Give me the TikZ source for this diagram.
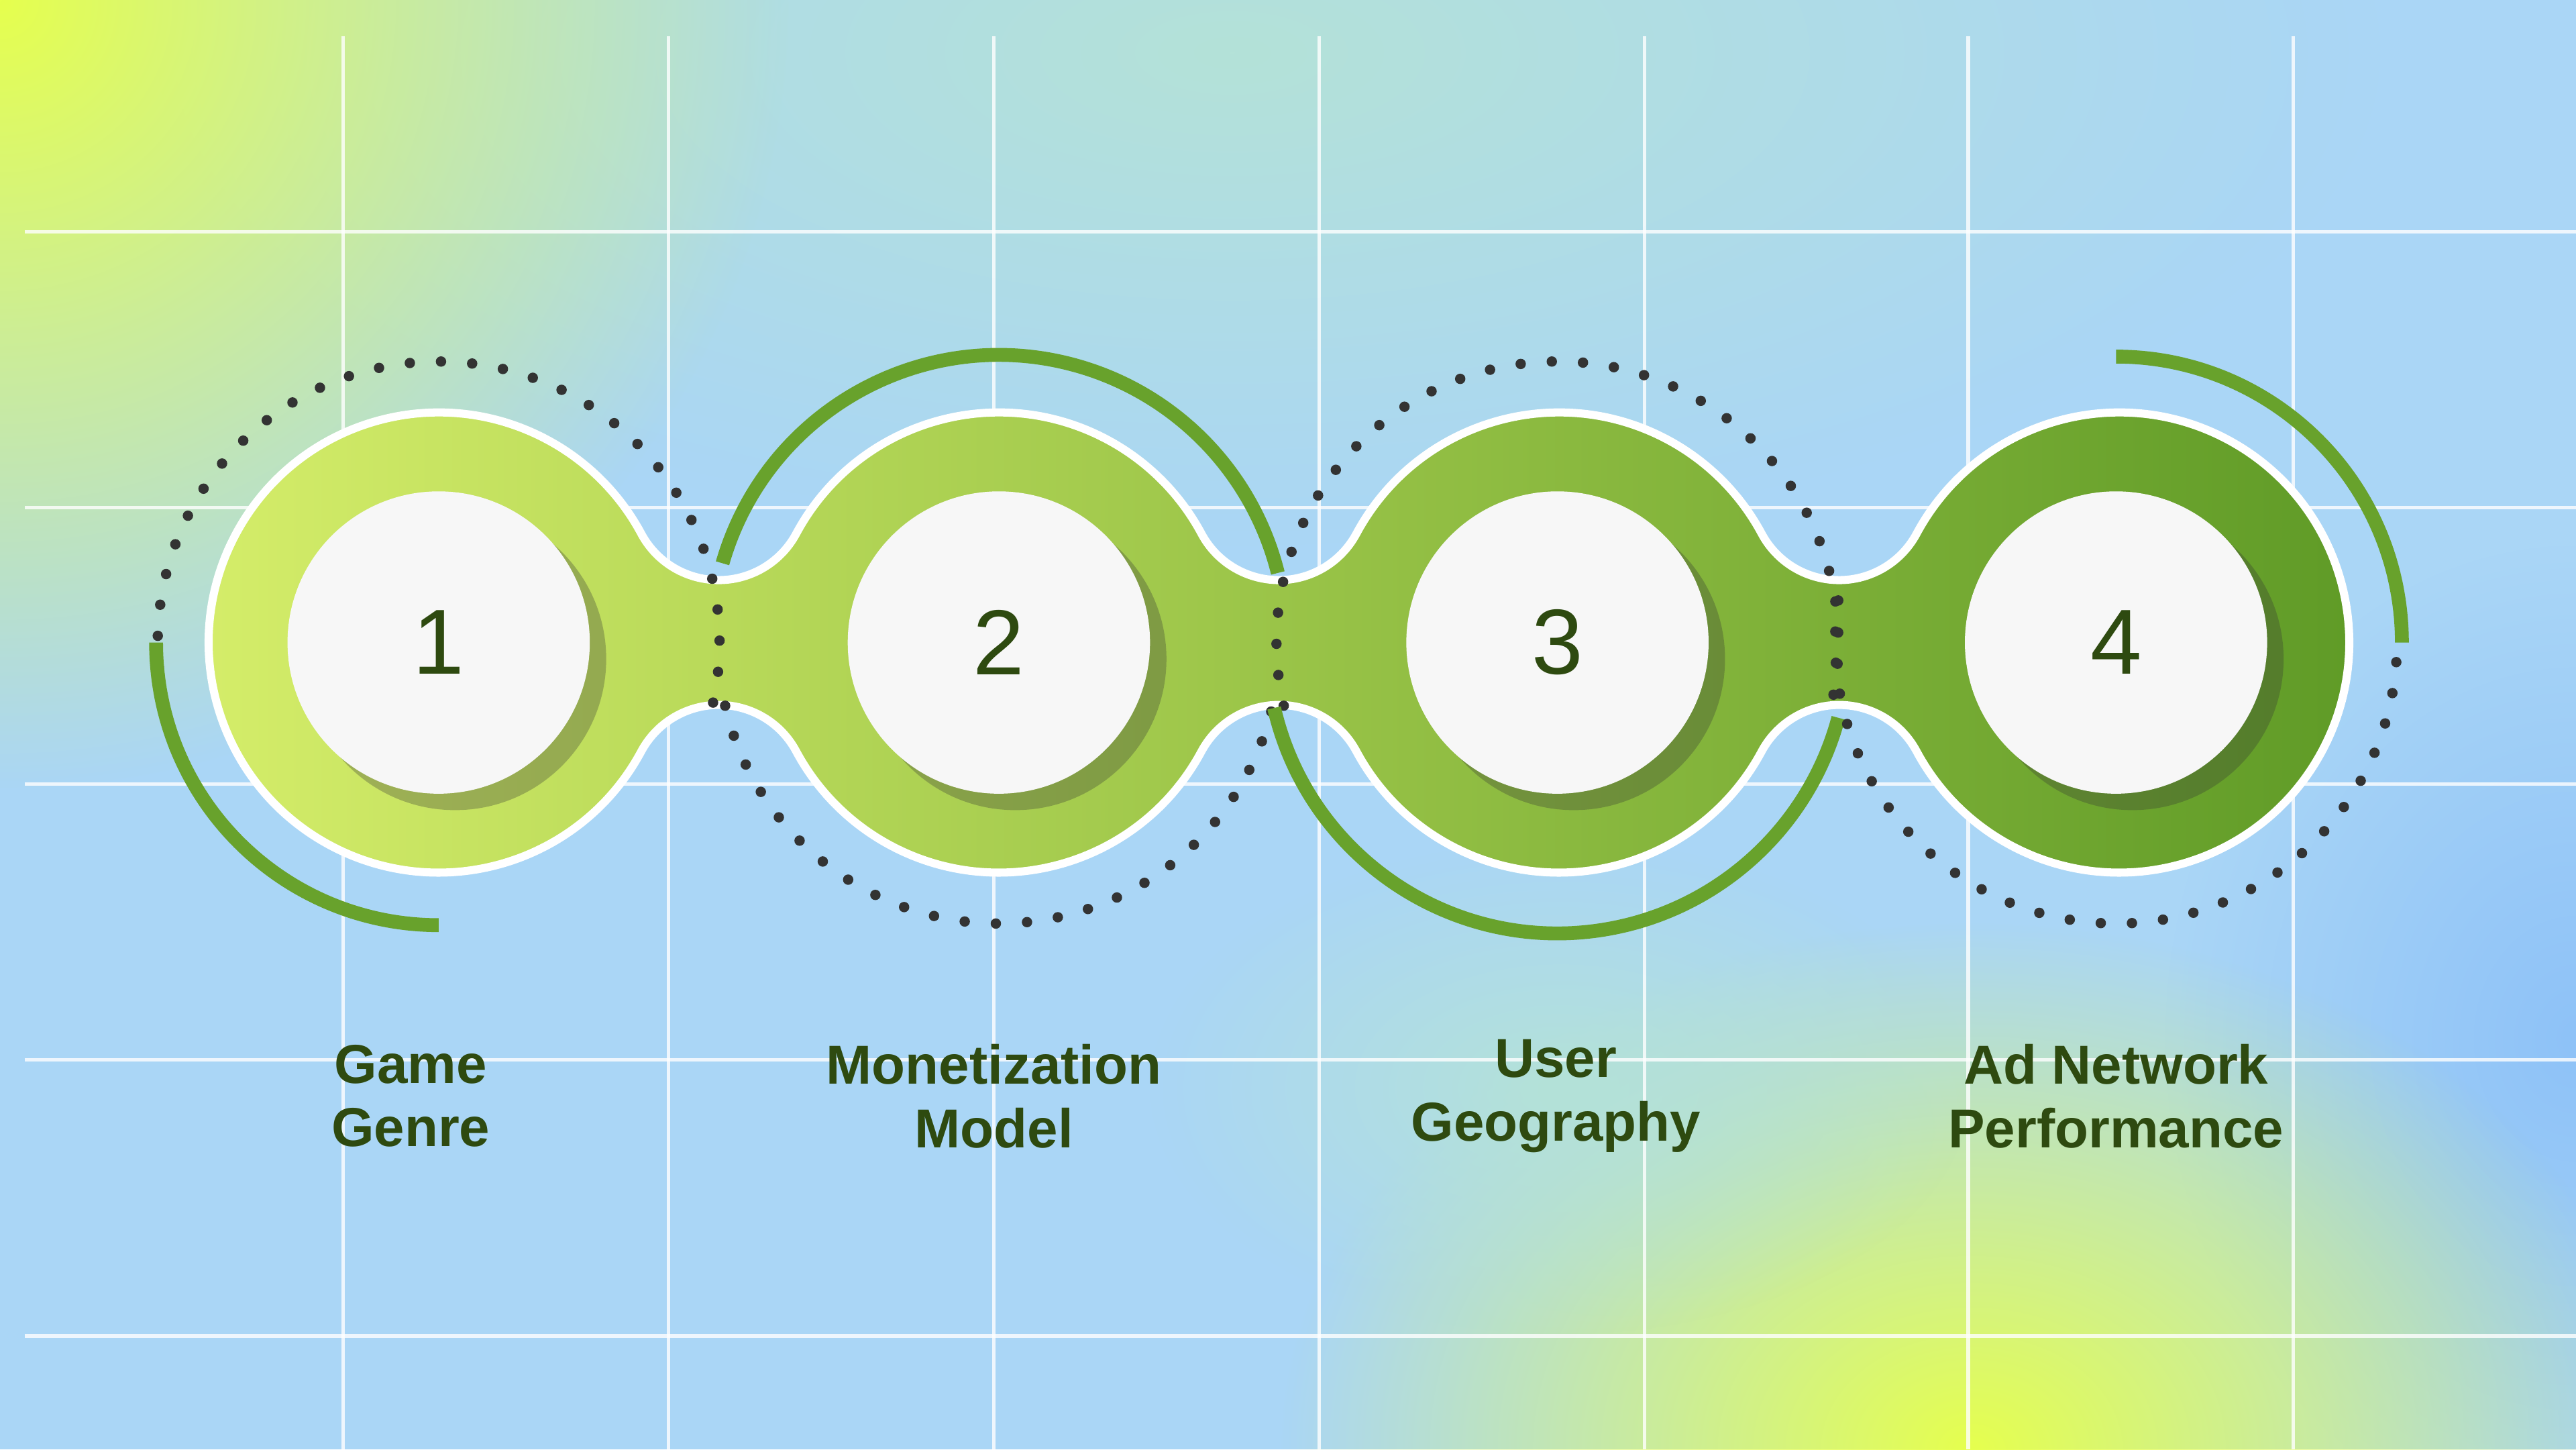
\documentclass[tikz,border=0pt]{standalone}
\usepackage{fontspec}
\setmainfont{Liberation Sans}
\usetikzlibrary{fadings,shadows,calc}
\tikzfading[name=softout,inner color=transparent!0,outer color=transparent!100]
\definecolor{bgblue}{HTML}{AAD6F6}
\definecolor{ylw}{HTML}{E6FF4E}
\definecolor{tealc}{HTML}{B4E2D8}
\definecolor{deepblue}{HTML}{8EC2F8}
\definecolor{gL}{HTML}{D6EE6A}
\definecolor{gR}{HTML}{5E9A26}
\definecolor{arcg}{HTML}{68A22C}
\definecolor{txt}{HTML}{2E4A10}
\definecolor{dotc}{HTML}{333333}
\tikzset{
 grid/.style={white,line width=0.6pt,opacity=0.8},
 solidarc/.style={arcg,line width=2.4pt},
 dotarc/.style={dotc,line width=1.8pt,line cap=round,dash pattern=on 0pt off 0.19cm},
 inner/.style={circle,fill=white!97!black,minimum size=1.84cm,inner sep=0pt,
   drop shadow={shadow xshift=0.1cm,shadow yshift=-0.1cm,opacity=0.3,fill=black!80}},
 num/.style={font=\fontsize{16}{16}\selectfont,text=txt},
 lab/.style={font=\bfseries\fontsize{9.5}{11}\selectfont,text=txt,align=center}
}
\begin{document}
\begin{tikzpicture}
\useasboundingbox (0,0) rectangle (15.68,8.82);
\fill[bgblue] (0,0) rectangle (15.68,8.82);
\fill[deepblue,path fading=softout] (15.68,2.5) ellipse (2.5 and 3);
\fill[tealc,path fading=softout] (7.5,8.5) ellipse (7 and 3);
\fill[ylw,path fading=softout] (0,8.82) circle (4.8);
\fill[ylw,path fading=softout] (12.0,0) ellipse (4.2 and 3.2);
\fill[tealc,path fading=softout] (9.5,2.2) ellipse (2.5 and 1.5);
\foreach \x in {2.09,4.07,6.05,8.03,10.01,11.98,13.96} \draw[grid] (\x,8.6) -- (\x,0);
\foreach \y in {7.41,5.73,4.05,2.37,0.69} \draw[grid] (0.15,\y) -- (15.68,\y);
\coordinate (c1) at (2.67,4.91);
\coordinate (c2) at (6.08,4.91);
\coordinate (c3) at (9.48,4.91);
\coordinate (c4) at (12.88,4.91);
\shade[left color=gL,right color=gR,draw=white,line width=1.4pt]
 ($(c1)+(28.22:1.4)$) arc[start angle=208.22,end angle=331.78,radius=0.535]
 arc[start angle=151.78,end angle=28.22,radius=1.4]
 arc[start angle=208.22,end angle=331.78,radius=0.535]
 arc[start angle=151.78,end angle=28.22,radius=1.4]
 arc[start angle=208.22,end angle=331.78,radius=0.535]
 arc[start angle=151.78,end angle=-151.78,radius=1.4]
 arc[start angle=28.22,end angle=151.78,radius=0.535]
 arc[start angle=-28.22,end angle=-151.78,radius=1.4]
 arc[start angle=28.22,end angle=151.78,radius=0.535]
 arc[start angle=-28.22,end angle=-151.78,radius=1.4]
 arc[start angle=28.22,end angle=151.78,radius=0.535]
 arc[start angle=-28.22,end angle=-331.78,radius=1.4] -- cycle;
\draw[dotarc] ($(c1)+(185:1.71)$) arc[start angle=185,end angle=-13,radius=1.71];
\draw[solidarc] ($(c1)+(180:1.72)$) arc[start angle=180,end angle=270,radius=1.72];
\draw[solidarc] ($(c2)+(164:1.75)$) arc[start angle=164,end angle=14,radius=1.75];
\draw[dotarc] ($(c2)+(193:1.71)$) arc[start angle=193,end angle=350,radius=1.71];
\draw[dotarc] ($(c3)+(193:1.71)$) arc[start angle=193,end angle=-13,radius=1.71];
\draw[solidarc] ($(c3)+(193:1.77)$) arc[start angle=193,end angle=345,radius=1.77];
\draw[solidarc] ($(c4)+(90:1.74)$) arc[start angle=90,end angle=0,radius=1.74];
\draw[dotarc] ($(c4)+(-4:1.71)$) arc[start angle=-4,end angle=-190,radius=1.71];
\node[inner] (n1) at (c1) {}; \node[num] at (n1) {1};
\node[inner] (n2) at (c2) {}; \node[num] at (n2) {2};
\node[inner] (n3) at (c3) {}; \node[num] at (n3) {3};
\node[inner] (n4) at (c4) {}; \node[num] at (n4) {4};
\node[lab] (l1) at (2.50,2.15) {Game\\Genre};
\node[lab] (l2) at (6.05,2.15) {Monetization\\Model};
\node[lab] (l3) at (9.47,2.15) {User\\Geography};
\node[lab] (l4) at (12.88,2.15) {Ad Network\\Performance};
\end{tikzpicture}
\end{document}
